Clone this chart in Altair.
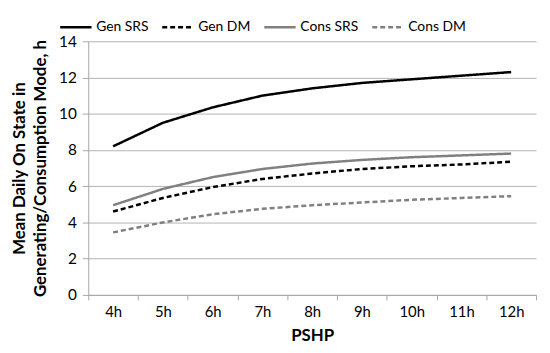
import altair as alt
import pandas as pd

categories = ["4h", "5h", "6h", "7h", "8h", "9h", "10h", "11h", "12h"]
gen_srs = [8.2, 9.5, 10.35, 11.0, 11.4, 11.7, 11.9, 12.1, 12.3]
gen_dm = [4.6, 5.35, 5.95, 6.4, 6.7, 6.95, 7.1, 7.2, 7.35]
cons_srs = [4.95, 5.85, 6.5, 6.95, 7.25, 7.45, 7.6, 7.7, 7.8]
cons_dm = [3.45, 4.0, 4.45, 4.75, 4.95, 5.1, 5.25, 5.35, 5.45]
series_names = ["Gen SRS", "Gen DM", "Cons SRS", "Cons DM"]

rows = []
for name, vals in zip(series_names, [gen_srs, gen_dm, cons_srs, cons_dm]):
    for c, v in zip(categories, vals):
        rows.append({"PSHP": c, "value": v, "series": name})
df = pd.DataFrame(rows)

font = "Lato"

chart = alt.Chart(df).mark_line(strokeWidth=2.5).encode(
    x=alt.X("PSHP:O", sort=categories, bandPosition=0.5,
            scale=alt.Scale(type="band", paddingInner=0, paddingOuter=0),
            axis=alt.Axis(title="PSHP", labelAngle=0, tickBand="extent", grid=False,
                          domainColor="#a6a6a6", tickColor="#a6a6a6", tickSize=5,
                          labelFontSize=15, labelPadding=5, titleFontSize=17,
                          titleFontWeight="bold", titlePadding=8, labelColor="#000",
                          titleColor="#000", labelFont=font, titleFont=font)),
    y=alt.Y("value:Q", scale=alt.Scale(domain=[0, 14]),
            axis=alt.Axis(values=list(range(0, 15, 2)), title=["Mean Daily On State in", "Generating/Consumption Mode, h"],
                          gridColor="#b3b3b3", domainColor="#a6a6a6", tickColor="#a6a6a6",
                          tickSize=6, labelFontSize=15.5, labelPadding=6, titleFontSize=17,
                          titleFontWeight="bold", titlePadding=9, titleLineHeight=21,
                          labelColor="#000", titleColor="#000", labelFont=font, titleFont=font)),
    color=alt.Color("series:N", sort=series_names,
                    scale=alt.Scale(domain=series_names, range=["#000000", "#000000", "#808080", "#808080"]),
                    legend=alt.Legend(title=None, orient="none", legendX=-30, legendY=-32,
                                      direction="horizontal",
                                      symbolType="stroke", symbolStrokeWidth=2.5, symbolSize=1000,
                                      labelFontSize=14, labelFont=font, labelColor="#000",
                                      columnPadding=8, labelOffset=3)),
    strokeDash=alt.StrokeDash("series:N", sort=series_names,
                              scale=alt.Scale(domain=series_names, range=[[1, 0], [5, 3], [1, 0], [5, 3]]),
                              legend=alt.Legend(title=None)),
).properties(width=452, height=256, padding={"left": 3, "top": 0, "right": 5, "bottom": 0}).configure_view(stroke=None)

chart.save("out.html", embed_options={"renderer": "svg", "actions": False})
